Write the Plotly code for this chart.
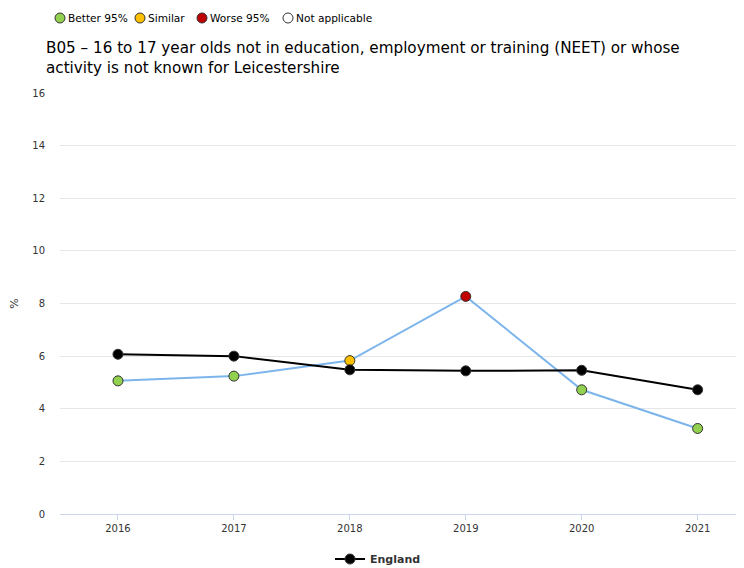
import plotly.graph_objects as go

YEARS = ["2016", "2017", "2018", "2019", "2020", "2021"]
LEICS = [5.06, 5.24, 5.83, 8.27, 4.72, 3.25]
LEICS_SIG = ["Better 95%", "Better 95%", "Similar", "Worse 95%", "Better 95%", "Better 95%"]
ENGLAND = [6.07, 6.0, 5.48, 5.44, 5.46, 4.72]

SIG_COLOURS = {
    "Better 95%": "#92d050",
    "Similar": "#ffc000",
    "Worse 95%": "#c00000",
    "Not applicable": "#ffffff",
}
KEY_ITEMS = ["Better 95%", "Similar", "Worse 95%", "Not applicable"]
KEY_X = [60, 140, 202, 288]  # page pixel x of each key circle

FONT = "DejaVu Sans"
OFF = 8  # page body margin

# plot area in figure pixels
L, T, B, W = 60 - OFF, 93 - OFF, 514 - OFF, 684
FIG_W, FIG_H = 744 - OFF, 568 - OFF

fig = go.Figure()

fig.add_trace(go.Scatter(
    x=YEARS, y=LEICS, mode="lines+markers", name="Leicestershire",
    line=dict(color="#7cb5ec", width=2),
    marker=dict(size=10, color=[SIG_COLOURS[s] for s in LEICS_SIG],
                line=dict(color="#333333", width=1)),
    showlegend=False,
))
fig.add_trace(go.Scatter(
    x=YEARS, y=ENGLAND, mode="lines+markers", name="<b>England</b>",
    line=dict(color="#000000", width=2),
    marker=dict(size=10, color="#000000", line=dict(color="#333333", width=1)),
))

# significance key across the top
cy = (B - (18 - OFF)) / (B - T)
for label, px_x in zip(KEY_ITEMS, KEY_X):
    fx = px_x - OFF
    fig.add_shape(type="circle", xref="paper", yref="paper",
                  xsizemode="pixel", ysizemode="pixel",
                  xanchor=(fx - L) / W, yanchor=cy,
                  x0=-5, x1=5, y0=-5, y1=5,
                  fillcolor=SIG_COLOURS[label], line=dict(color="#333333", width=1))
    fig.add_annotation(text=label, xref="paper", yref="paper",
                       x=(fx + 6 - L) / W, y=cy, xanchor="left", yanchor="middle",
                       showarrow=False, font=dict(family=FONT, size=10.6, color="#000000"))

# chart title, two lines
fig.add_annotation(
    text="B05 – 16 to 17 year olds not in education, employment or training (NEET) or whose<br>activity is not known for Leicestershire",
    xref="paper", yref="paper", x=(44 - OFF - L) / W, y=(B - (37 - OFF)) / (B - T),
    xanchor="left", yanchor="top", align="left", showarrow=False,
    font=dict(family=FONT, size=15.2, color="#000000"),
)

fig.update_layout(
    width=FIG_W, height=FIG_H,
    margin=dict(l=L, r=0, t=T, b=FIG_H - B),
    plot_bgcolor="white", paper_bgcolor="white",
    font=dict(family=FONT, color="#333333"),
    xaxis=dict(
        type="category", range=[-0.5, 5.4], showgrid=False,
        showline=True, linecolor="#ccd6eb", linewidth=1,
        ticks="outside", ticklen=5, tickcolor="#ccd6eb",
        tickfont=dict(family=FONT, size=10, color="#333333"),
    ),
    yaxis=dict(
        range=[0, 16], dtick=2, showgrid=True, gridcolor="#e6e6e6", zeroline=False,
        ticks="", ticklabelstandoff=14,
        tickfont=dict(family=FONT, size=10, color="#333333"),
        title=dict(text="%", standoff=16, font=dict(family=FONT, size=11, color="#333333")),
    ),
    legend=dict(
        orientation="h", xref="container", yref="container",
        x=(378 - OFF) / FIG_W, xanchor="center", y=1 - (559 - OFF) / FIG_H, yanchor="middle",
        font=dict(family=FONT, size=11, color="#333333"),
    ),
)

fig.write_html("out.html")
